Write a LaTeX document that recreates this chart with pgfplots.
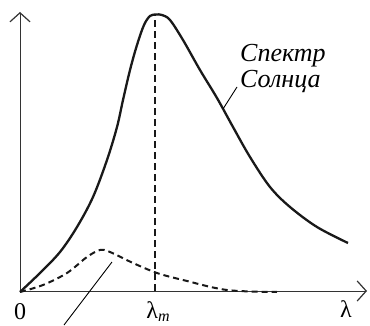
\documentclass[border=0pt]{standalone}
\usepackage{fontspec}
\setmainfont{Liberation Serif}
\newfontfamily\tnr{Liberation Serif}
\usepackage{pgfplots}
\pgfplotsset{compat=1.18}
\usetikzlibrary{arrows.meta}
\begin{document}
\begin{tikzpicture}
\begin{axis}[
  scale only axis, width=370pt, height=325pt,
  xmin=0, xmax=370, ymin=0, ymax=325,
  axis lines=none, clip=false,
]
% axes
\draw[line width=1pt, black!80, -{Straight Barb[length=9pt,width=20pt,line width=1.2pt]}] (axis cs:20,34) -- (axis cs:20,313);
\draw[line width=1pt, black!80, -{Straight Barb[length=9pt,width=20pt,line width=1.2pt]}] (axis cs:20,34) -- (axis cs:367,34);
% solar spectrum
\addplot[smooth, tension=0.55, line width=2.3pt, black!90] coordinates {
(20,33) (40,52) (60,73) (77,98) (93,128) (107,165) (117,198) (123,225) (130,255) (137,280) (144,300) (150,309) (156,310.5) (162,310) (170,305) (183,285) (200,255) (217,227) (233,198) (250,168) (270,138) (290,118) (317,98) (348,82)
};
% dashed curve
\addplot[smooth, tension=0.55, line width=2pt, black!90, dash pattern=on 6pt off 4pt] coordinates {
(20,33) (43,40) (67,52) (87,68) (100,75) (110,73) (133,62) (157,52) (183,45) (227,35) (277,33)
};
% lambda_m line
\addplot[line width=1.8pt, black!90, dash pattern=on 7pt off 4pt] coordinates {(155,34) (155,310)};
% leader lines
\addplot[line width=0.9pt, black] coordinates {(237,238) (223,216)};
\addplot[line width=0.9pt, black] coordinates {(112,63) (64,0)};
% labels
\node[anchor=base west, font=\tnr\fontsize{26}{30}\selectfont\itshape, inner sep=0pt] at (axis cs:240,263) {Спектр};
\node[anchor=base west, font=\tnr\fontsize{26}{30}\selectfont\itshape, inner sep=0pt] at (axis cs:240,237) {Солнца};
\node[anchor=base, font=\tnr\fontsize{24}{28}\selectfont, inner sep=0pt] at (axis cs:20,6) {0};
\node[anchor=base, font=\tnr\fontsize{24}{28}\selectfont, inner sep=0pt] at (axis cs:158,7) {λ\raisebox{-3pt}{\fontsize{16}{18}\selectfont\itshape m}};
\node[anchor=base, font=\tnr\fontsize{24}{28}\selectfont, inner sep=0pt] at (axis cs:346,8) {λ};
\end{axis}
\pgfresetboundingbox
\path[use as bounding box] (0,0) rectangle (370pt,325pt);
\end{tikzpicture}
\end{document}
